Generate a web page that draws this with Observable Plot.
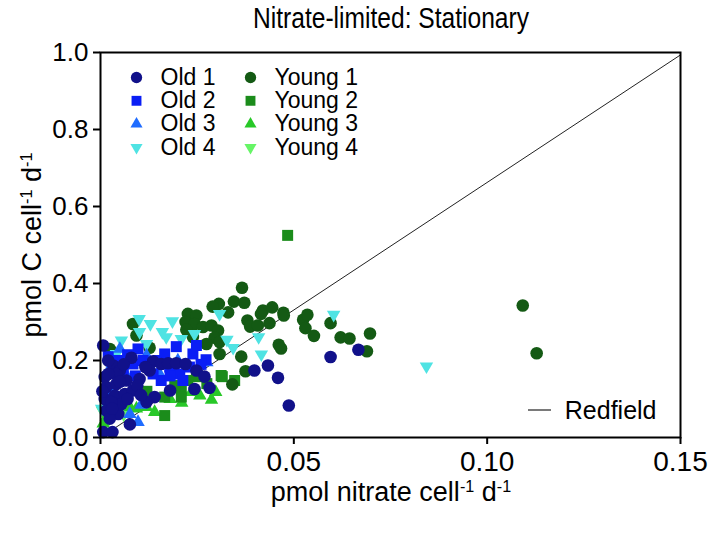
<!DOCTYPE html>
<html><head><meta charset="utf-8">
<script src="https://cdn.jsdelivr.net/npm/d3@7"></script>
<script src="https://cdn.jsdelivr.net/npm/@observablehq/plot@0.6"></script>
<style>body{margin:0;background:#fff;font-family:"Liberation Sans",Arial,sans-serif}</style>
</head><body><div id="chart"></div>
<script>
const titleText = "Nitrate-limited: Stationary";
const seriesNames = ["Old 1","Old 2","Old 3","Old 4","Young 1","Young 2","Young 3","Young 4"];
const seriesColors = ["#11118a","#0a1ef5","#1f6cff","#4fe3e3","#145a14","#1b8c1b","#28c828","#66f566"];
const seriesShapes = ["circle","square","triangle","triangleDown","circle","square","triangle","triangleDown"];
const xTicks = [0, 0.05, 0.10, 0.15];
const yTicks = [0, 0.2, 0.4, 0.6, 0.8, 1.0];
const redfieldRatio = 6.625;

const old1 = [[0.0007,0.239],[0.008,0.207],[0.0136,0.198],[0.0157,0.191],[0.0175,0.193],[0.0196,0.193],[0.022,0.191],[0.0248,0.174],[0.0269,0.158],[0.0282,0.129],[0.0243,0.126],[0.018,0.122],[0.014,0.105],[0.0119,0.092],[0.0101,0.152],[0.0127,0.174],[0.0116,0.183],[0.0398,0.174],[0.0433,0.187],[0.0459,0.155],[0.0487,0.083],[0.0076,0.034],[0.0007,0.014],[0.0031,0.014],[0.0011,0.157],[0.0033,0.187],[0.005,0.174],[0.0015,0.131],[0.0041,0.139],[0.0067,0.148],[0.0011,0.1],[0.0037,0.109],[0.0063,0.113],[0.0084,0.122],[0.0015,0.07],[0.0046,0.061],[0.0024,0.049],[0.0054,0.087],[0.0028,0.092],[0.0595,0.209],[0.0667,0.228],[0.002,0.2],[0.004,0.165],[0.006,0.19],[0.0005,0.12],[0.0095,0.135],[0.003,0.075],[0.007,0.1],[0.0105,0.11],[0.002,0.165],[0.005,0.145]];
const old2 = [[0.0097,0.23],[0.0196,0.236],[0.0166,0.217],[0.0239,0.217],[0.0273,0.202],[0.0179,0.183],[0.0205,0.165],[0.0157,0.148],[0.0136,0.165],[0.0084,0.191],[0.0059,0.174],[0.0033,0.174],[0.023,0.183],[0.0213,0.148],[0.011,0.2],[0.0248,0.239],[0.002,0.21],[0.0045,0.2],[0.007,0.215],[0.015,0.2],[0.018,0.16],[0.026,0.19],[0.009,0.16]];
const old3 = [[0.005,0.23],[0.0119,0.213],[0.0076,0.061],[0.0097,0.04],[0.003,0.19],[0.0065,0.165],[0.0105,0.085],[0.015,0.17],[0.02,0.2],[0.0275,0.195],[0.0025,0.12]];
const old4 = [[0.01,0.308],[0.0129,0.295],[0.0186,0.302],[0.0101,0.274],[0.016,0.274],[0.017,0.261],[0.0054,0.252],[0.0119,0.243],[0.0209,0.256],[0.0243,0.269],[0.0308,0.321],[0.0327,0.254],[0.0343,0.233],[0.0409,0.261],[0.0416,0.216],[0.0041,0.217],[0.0028,0.2],[0.0003,0.075],[0.0603,0.319],[0.0843,0.185]];
const young1 = [[0.0366,0.389],[0.0306,0.347],[0.029,0.34],[0.0345,0.353],[0.0372,0.35],[0.033,0.325],[0.042,0.33],[0.0444,0.338],[0.0473,0.324],[0.0415,0.321],[0.0437,0.297],[0.038,0.304],[0.0387,0.288],[0.0407,0.291],[0.0226,0.321],[0.0248,0.317],[0.022,0.3],[0.0243,0.295],[0.0265,0.287],[0.0222,0.28],[0.0287,0.291],[0.0304,0.278],[0.0295,0.259],[0.0308,0.248],[0.0274,0.243],[0.0308,0.217],[0.0364,0.21],[0.0461,0.241],[0.0239,0.261],[0.0084,0.295],[0.0093,0.265],[0.0024,0.23],[0.0375,0.172],[0.0341,0.138],[0.0127,0.233],[0.0474,0.317],[0.0524,0.306],[0.0535,0.319],[0.053,0.284],[0.0552,0.264],[0.0595,0.297],[0.0621,0.26],[0.0644,0.257],[0.0697,0.27],[0.0689,0.224],[0.0467,0.231],[0.1092,0.343],[0.1128,0.219]];
const young2 = [[0.0484,0.525],[0.0315,0.158],[0.0347,0.148],[0.0209,0.126],[0.0209,0.105],[0.0166,0.105],[0.0166,0.057],[0.0226,0.148],[0.0248,0.158],[0.0192,0.135],[0.0312,0.161],[0.012,0.12],[0.0275,0.14]];
const young3 = [[0.0298,0.118],[0.0287,0.098],[0.0257,0.109],[0.0235,0.118],[0.014,0.066],[0.0093,0.075],[0.0007,0.036],[0.0015,0.053],[0.0119,0.079],[0.0076,0.079],[0.018,0.1],[0.0045,0.085],[0.021,0.09]];
const young4 = [[0.0005,0.07],[0.002,0.045],[0.003,0.095],[0.001,0.12],[0.006,0.06]];
const seriesData = [old1, old2, old3, old4, young1, young2, young3, young4];

const sqrt3 = Math.sqrt(3);
const triangleDown = {draw(ctx, size) {
  const y = -Math.sqrt(size / (sqrt3 * 3));
  ctx.moveTo(0, -y * 2); ctx.lineTo(-sqrt3 * y, y); ctx.lineTo(sqrt3 * y, y); ctx.closePath();
}};
const symFor = s => s === "triangleDown" ? triangleDown : s;
const rFor = s => s === "circle" ? 6.3 : s === "square" ? 6.2 : 5;

const FS = 23;
const dotMarks = [];
const drawOrder = [7,6,5,4,3,2,1,0];
for (const i of drawOrder) {
  dotMarks.push(Plot.dot(seriesData[i], {x: d => d[0], y: d => d[1], symbol: symFor(seriesShapes[i]), fill: seriesColors[i], r: rFor(seriesShapes[i]), stroke: "none"}));
}
const legendMarks = [];
seriesNames.forEach((name, i) => {
  const col = i < 4 ? 0 : 1, row = i % 4;
  const dx = col === 0 ? 36 : 150, dy = 25 + row * 23.3;
  legendMarks.push(Plot.dot([name], {frameAnchor: "top-left", dx, dy, symbol: symFor(seriesShapes[i]), fill: seriesColors[i], r: rFor(seriesShapes[i]) * 0.9}));
  legendMarks.push(Plot.text([name], {frameAnchor: "top-left", dx: dx + 24, dy, text: d => d, textAnchor: "start", fontSize: FS, fill: "#000", lineAnchor: "middle"}));
});

const redfieldLine = [xTicks[0], xTicks[xTicks.length - 1]].map(x => ({x, y: x * redfieldRatio}));

const plot = Plot.plot({
  width: 709, height: 533,
  marginTop: 52, marginBottom: 96, marginLeft: 100, marginRight: 29,
  style: {fontFamily: '"Liberation Sans", Arial, sans-serif', background: "#fff"},
  x: {domain: [0, 0.15]},
  y: {domain: [0, 1]},
  marks: [
    Plot.axisX({ticks: xTicks, tickFormat: d3.format(".2f"), tickSize: 7, tickPadding: 7, fontSize: 28, label: null, strokeWidth: 2}),
    Plot.axisY({ticks: yTicks, tickFormat: d3.format(".1f"), tickSize: 7, tickPadding: 5, fontSize: 26, label: null, strokeWidth: 2}),
    Plot.line(redfieldLine, {x: "x", y: "y", stroke: "#222", strokeWidth: 1}),
    ...dotMarks,
    Plot.frame({stroke: "#000", strokeWidth: 2}),
    ...legendMarks,
    Plot.text(["Redfield"], {frameAnchor: "bottom-right", dx: -24, dy: -27, text: d => d, textAnchor: "end", fontSize: 25, lineAnchor: "middle", fill: "#000"})
  ]
});
document.getElementById("chart").appendChild(plot);

const svg = d3.select(plot);
// Redfield legend line
svg.append("line").attr("x1", 528).attr("x2", 551).attr("y1", 410).attr("y2", 410).attr("stroke", "#222").attr("stroke-width", 1.2);
// title (condensed, as in the reference)
svg.append("text").attr("transform", "translate(391,28) scale(0.82,1)").attr("text-anchor", "middle")
  .attr("font-size", 30).attr("fill", "#000").text(titleText);
function supLabel(g, parts, fs) {
  parts.forEach(p => {
    const t = g.append("tspan").text(p[0]);
    if (p[1]) t.attr("baseline-shift", "super").attr("font-size", fs * 0.6);
  });
}
const AFS = 27;
const xl = svg.append("text").attr("x", 391).attr("y", 501).attr("text-anchor", "middle").attr("font-size", AFS).attr("fill", "#000");
supLabel(xl, [["pmol nitrate cell"], ["-1", true], [" d"], ["-1", true]], AFS);
const yl = svg.append("text").attr("transform", "translate(41,245) rotate(-90)").attr("text-anchor", "middle").attr("font-size", AFS).attr("fill", "#000");
supLabel(yl, [["pmol C cell"], ["-1", true], [" d"], ["-1", true]], AFS);
</script>
</body></html>
